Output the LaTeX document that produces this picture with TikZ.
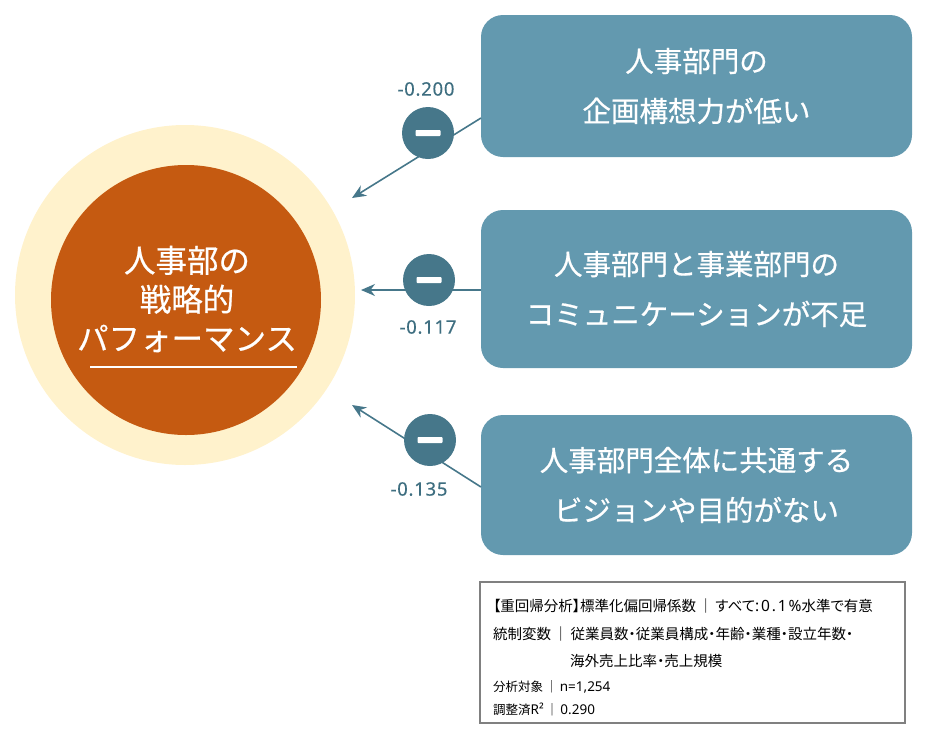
\documentclass[tikz,border=0pt]{standalone}
\usepackage{fontspec}
\setmainfont{Noto Sans CJK JP}
\newfontfamily\jpp{Noto Sans CJK JP}[RawFeature={+palt}]
\newfontfamily\jpm{Noto Sans CJK JP}[FakeBold=0.6]
\newfontfamily\lat{Noto Sans}[LetterSpace=12]
\newfontfamily\latn{Noto Sans}
\newfontfamily\coeffont{Noto Sans}[FakeBold=0.5, LetterSpace=4]
\usetikzlibrary{arrows.meta}
\definecolor{cream}{HTML}{FFF2CC}
\definecolor{rust}{HTML}{C55A11}
\definecolor{boxblue}{HTML}{6399AF}
\definecolor{dark}{HTML}{46778A}
\definecolor{labelc}{HTML}{3E6E80}
\definecolor{notegray}{HTML}{808080}
\tikzset{
  factor/.style={fill=boxblue, rounded corners=22pt, minimum width=431pt, text=white, align=center, font=\jpm\fontsize{28.5}{50}\selectfont},
  minus/.style={circle, fill=dark, minimum size=52pt, inner sep=0pt},
  arr/.style={draw=dark, line width=1.6pt, -{Stealth[length=14pt,width=12pt]}},
  coef/.style={text=labelc, font=\coeffont\fontsize{18.5}{20}\selectfont},
  note/.style={anchor=west, inner sep=0pt, text=black, font=\jpp\fontsize{14.5}{16}\selectfont},
  notesm/.style={anchor=west, inner sep=0pt, text=black, font=\jpp\fontsize{12.5}{14}\selectfont}
}
\begin{document}
\begin{tikzpicture}[x=1pt,y=-1pt]
\useasboundingbox (0,0) rectangle (930,740);
% central circles
\node[circle, fill=cream, minimum size=340pt, inner sep=0pt] (outer) at (185,295) {};
\node[circle, fill=rust, minimum size=270pt, inner sep=0pt] (inner) at (186,300) {};
\node[text=white, align=center, font=\jpm\fontsize{31.5}{39}\selectfont] (title) at (187,299) {人事部の\\戦略的\\パフォーマンス};
\draw[white, line width=1.2pt] (90,367) -- (297,367);
% factor boxes
\node[factor, minimum height=142pt] (b1) at (696.5,86) {人事部門の\\企画構想力が低い};
\node[factor, minimum height=158pt] (b2) at (696.5,289) {人事部門と事業部門の\\コミュニケーションが不足};
\node[factor, minimum height=140pt] (b3) at (696.5,485) {人事部門全体に共通する\\ビジョンや目的がない};
% connector endpoints
\coordinate (s1) at (481,118);
\coordinate (t1) at (352,198);
\coordinate (s2) at (481,290);
\coordinate (t2) at (361,290);
\coordinate (s3) at (481,487);
\coordinate (t3) at (352,405);
\draw[arr] (s1) -- (t1);
\draw[arr] (s2) -- (t2);
\draw[arr] (s3) -- (t3);
% minus circles
\node[minus] (m1) at (428,133) {};
\node[minus] (m2) at (429,280) {};
\node[minus] (m3) at (430,440) {};
\foreach \m in {m1,m2,m3}{
  \fill[white, rounded corners=0.8pt] ([xshift=-12.5pt,yshift=-3pt]\m.center) rectangle ([xshift=12.5pt,yshift=3pt]\m.center);
}
% coefficients
\node[coef] (c1) at (426,89) {-0.200};
\node[coef] (c2) at (428,327) {-0.117};
\node[coef] (c3) at (419,489) {-0.135};
% note box
\node[draw=notegray, line width=1.5pt, minimum width=425pt, minimum height=141pt, inner sep=0pt] (notebox) at (692.5,652.5) {};
\node[note] (n1) at (493,606) {【重回帰分析】標準化偏回帰係数\,｜\,すべて{\lat\fontsize{15.5}{16}\selectfont:0.1\%}水準で有意};
\node[note] (n2) at (493,634) {統制変数\,｜\,従業員数・従業員構成・年齢・業種・設立年数・};
\node[note] (n3) at (570,661) {海外売上比率・売上規模};
\node[notesm] (n4) at (493,687) {分析対象\,｜\,{\latn\fontsize{13.5}{14}\selectfont n=1,254}};
\node[notesm] (n5) at (493,709) {調整済{\latn\fontsize{13.5}{14}\selectfont R²}\,｜\,{\latn\fontsize{13.5}{14}\selectfont 0.290}};
\end{tikzpicture}
\end{document}
